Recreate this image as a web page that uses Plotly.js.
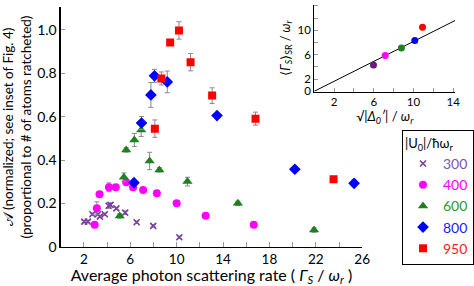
<!DOCTYPE html>
<html><head><meta charset="utf-8">
<script src="https://cdn.plot.ly/plotly-3.0.1.min.js"></script>
<style>html,body{margin:0;padding:0;background:#fff}#c{width:474px;height:286px}</style>
</head><body><div id="c"></div>
<script>
// ---- data ----
const x300 = [2.03, 2.34, 2.73, 3.21, 3.38, 3.80, 4.13, 4.30, 4.80, 5.56, 6.55, 7.98, 10.23];
const y300 = [0.117, 0.117, 0.151, 0.151, 0.140, 0.151, 0.190, 0.194, 0.178, 0.158, 0.114, 0.097, 0.045];
const e300 = [0.005, 0.005, 0.005, 0.005, 0.005, 0.005, 0.012, 0.008, 0.005, 0.008, 0.005, 0.005, 0.005];

const x400 = [2.93, 3.12, 3.35, 4.16, 4.75, 5.65, 6.24, 7.11, 8.29, 10.0, 12.5, 16.65];
const y400 = [0.103, 0.178, 0.243, 0.275, 0.275, 0.298, 0.275, 0.263, 0.247, 0.201, 0.144, 0.103];
const e400 = [0.01, 0.03, 0.01, 0.02, 0.01, 0.01, 0.01, 0.01, 0.01, 0.01, 0.01, 0.01];

const x600 = [5.09, 5.45, 5.65, 6.35, 6.94, 7.67, 8.51, 10.93, 15.28, 21.85];
const y600 = [0.143, 0.321, 0.447, 0.493, 0.539, 0.396, 0.355, 0.301, 0.201, 0.078];
const e600 = [0.01, 0.02, 0.01, 0.03, 0.03, 0.04, 0.01, 0.02, 0.01, 0.01];

const x800 = [6.32, 6.97, 7.78, 8.09, 9.19, 13.48, 20.19, 25.3];
const y800 = [0.296, 0.571, 0.700, 0.788, 0.760, 0.605, 0.358, 0.293];
const e800 = [0.01, 0.03, 0.057, 0.03, 0.05, 0.01, 0.01, 0.015];

const x950 = [8.12, 8.68, 9.44, 10.2, 11.2, 13.06, 16.8, 23.53];
const y950 = [0.545, 0.776, 0.941, 0.997, 0.851, 0.697, 0.591, 0.312];
const e950 = [0.04, 0.03, 0.01, 0.04, 0.04, 0.036, 0.03, 0.01];

const seriesNames = ['300', '400', '600', '800', '950'];
const seriesColors = ['#7a3fa0', '#ff00ff', '#1e801e', '#0000ff', '#ff0000'];
const legendTextColors = ['#7a55a8', '#ff00ff', '#2a9a2a', '#1a1aff', '#ff1a1a'];

// inset
const insetX = [5.97, 7.15, 8.78, 10.13, 10.91];
const insetY = [4.29, 5.86, 7.11, 8.30, 10.49];
const insetColors = ['#6a1a78', '#ff00ff', '#1e801e', '#0000ff', '#ff0000'];
const fitX = [0, 14.2];
const fitY = [0, 11.6];

// ticks
const mainXTicks = [2, 6, 10, 14, 18, 22, 26];
const mainXMinor = [4, 8, 12, 16, 20, 24];
const mainYTicks = [0, 0.2, 0.4, 0.6, 0.8, 1.0];
const mainYText = ['0', '0.2', '0.4', '0.6', '0.8', '1.0'];
const insetYTicks = [0, 2, 6, 10, 14];
const insetXTicks = [2, 6, 10, 14];
const insetMinor = [4, 8, 12];

// ---- traces ----
const W = 474, H = 286, MB = 38, PH = H - MB;
const FONT = 'Lato, "Open Sans", sans-serif';
const xs = [x300, x400, x600, x800, x950];
const ys = [y300, y400, y600, y800, y950];
const es = [e300, e400, e600, e800, e950];
const symbols = ['x-thin', 'circle', 'triangle-up', 'diamond', 'square'];
const sizes = [6, 8, 9, 9, 8];

const traces = xs.map((x, i) => ({
  type: 'scatter', mode: 'markers', x: x, y: ys[i],
  name: '<span style="color:' + legendTextColors[i] + '">' + seriesNames[i] + '</span>',
  error_y: {type: 'data', array: es[i], visible: true, color: '#8a8a8a', thickness: 1, width: 2.5},
  marker: symbols[i] === 'x-thin'
    ? {symbol: 'x-thin', size: sizes[i], color: seriesColors[i], line: {color: seriesColors[i], width: 1.6}}
    : {symbol: symbols[i], size: sizes[i], color: seriesColors[i], line: {width: 0}},
  xaxis: 'x', yaxis: 'y', showlegend: true
}));

traces.push({
  type: 'scatter', mode: 'lines', x: fitX, y: fitY, xaxis: 'x2', yaxis: 'y2',
  line: {color: '#000', width: 1}, showlegend: false, hoverinfo: 'skip'
});
traces.push({
  type: 'scatter', mode: 'markers', x: insetX, y: insetY, xaxis: 'x2', yaxis: 'y2',
  marker: {size: 7, color: insetColors}, showlegend: false
});

const minorStyle = (vals, len) => ({tickvals: vals, ticks: 'inside', ticklen: len, tickcolor: '#999', tickwidth: 1, showgrid: false});

const layout = {
  width: W, height: H,
  margin: {l: 0, r: 0, t: 0, b: MB},
  paper_bgcolor: '#fff', plot_bgcolor: 'rgba(0,0,0,0)',
  font: {family: FONT, size: 13, color: '#000'},
  showlegend: true,
  xaxis: {
    domain: [62 / W, 370 / W], range: [0, 26], anchor: 'y',
    tickmode: 'array', tickvals: mainXTicks,
    ticks: 'inside', ticklen: 5, tickcolor: '#999', tickwidth: 1,
    minor: minorStyle(mainXMinor, 5),
    showline: true, linecolor: '#000', linewidth: 1.2, showgrid: false, zeroline: false,
    tickfont: {size: 13.5, family: FONT}, automargin: false,
    title: {text: 'Average photon scattering rate ( <i>Γ<sub>S</sub></i> / <i>ω<sub>r</sub></i> )',
            font: {size: 16, family: FONT}, standoff: 3}
  },
  yaxis: {
    domain: [1 - 247 / PH, 1 - 7 / PH], range: [0, 1.105], anchor: 'x',
    tickmode: 'array', tickvals: mainYTicks, ticktext: mainYText,
    ticks: 'inside', ticklen: 4, tickcolor: '#999', tickwidth: 1,
    showline: true, linecolor: '#000', linewidth: 1.2, showgrid: false, zeroline: false,
    tickfont: {size: 14, family: FONT}, automargin: false,
    title: {text: '𝒜 (normalized; see inset of Fig. 4)<br>(proportional to # of atoms ratcheted)',
            font: {size: 13.5, family: FONT}, standoff: 2}
  },
  xaxis2: {
    domain: [321 / W, 465 / W], range: [0, 14.2], anchor: 'y2',
    tickmode: 'array', tickvals: insetXTicks,
    ticks: 'inside', ticklen: 4, tickcolor: '#999',
    minor: minorStyle(insetMinor, 4),
    showline: true, linecolor: '#000', linewidth: 1, showgrid: false, zeroline: false,
    tickfont: {size: 11.5, family: FONT}, automargin: false,
    title: {text: '√|<i>Δ<sub>0</sub>′</i>| / <i>ω<sub>r</sub></i>', font: {size: 13, family: FONT}, standoff: 2}
  },
  yaxis2: {
    domain: [1 - 91.6 / PH, 1 - 4.6 / PH], range: [-0.05, 14.2], anchor: 'x2',
    tickmode: 'array', tickvals: insetYTicks,
    ticks: 'inside', ticklen: 4, tickcolor: '#999',
    minor: minorStyle(insetMinor, 4),
    showline: true, linecolor: '#000', linewidth: 1, showgrid: false, zeroline: false,
    tickfont: {size: 11.5, family: FONT}, automargin: false,
    title: {text: '⟨<i>Γ<sub>S</sub></i>⟩<sub>SR</sub> / <i>ω<sub>r</sub></i>', font: {size: 12.5, family: FONT}, standoff: 4}
  },
  legend: {
    x: 411 / W, y: 1 - 130 / PH, xanchor: 'left', yanchor: 'top',
    bgcolor: '#fff', bordercolor: '#000', borderwidth: 1,
    font: {size: 14, family: FONT},
    title: {text: '|U<sub>0</sub>|/ħω<sub>r</sub>', font: {size: 13, family: FONT}},
    itemwidth: 30, tracegroupgap: 0
  }
};

Plotly.newPlot('c', traces, layout, {displayModeBar: false, staticPlot: true});
</script>
</body></html>
